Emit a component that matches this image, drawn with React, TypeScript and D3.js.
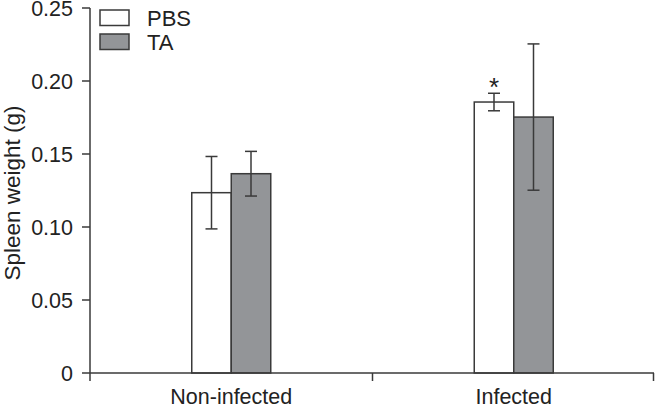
import React from "react";
import * as d3 from "d3";

const groups = ["Non-infected", "Infected"];
const seriesNames = ["PBS", "TA"];
const seriesColors = ["#ffffff", "#939598"];
const pbsMean = [0.1235, 0.1856];
const pbsErr = [0.0248, 0.006];
const taMean = [0.1365, 0.1753];
const taErr = [0.0153, 0.0501];
const yTicks = [0, 0.05, 0.1, 0.15, 0.2, 0.25];
const yTickLabels = ["0", "0.05", "0.10", "0.15", "0.20", "0.25"];
const significance = ["", "*"];

const W = 655;
const H = 406;
const margin = { left: 90, right: 0, top: 8, bottom: 33 };
const stroke = "#3a3a3a";
const font = "'Liberation Sans', Arial, Helvetica, sans-serif";

export default function App() {
  const x0 = d3.scaleBand().domain(groups).range([margin.left, W - margin.right]).padding(0);
  const y = d3.scaleLinear().domain([0, 0.25]).range([H - margin.bottom, margin.top]);
  const barW = 39.5;
  const x1 = d3.scaleBand().domain(seriesNames).range([-barW, barW]).padding(0);
  const means = [pbsMean, taMean];
  const errs = [pbsErr, taErr];
  const capW = 12;
  const y0 = y(0);

  return (
    <svg width={W} height={H} style={{ position: "absolute", left: 0, top: 0, display: "block" }} fontFamily={font}>
      <rect x={0} y={0} width={W} height={H} fill="#fff" />
      {/* bars */}
      {groups.map((g, gi) =>
        seriesNames.map((s, si) => {
          const cx = (x0(g) as number) + x0.bandwidth() / 2;
          const bx = cx + (x1(s) as number);
          const m = means[si][gi];
          const e = errs[si][gi];
          const mid = bx + x1.bandwidth() / 2;
          return (
            <g key={g + s}>
              <rect x={bx} y={y(m)} width={x1.bandwidth()} height={y0 - y(m)} fill={seriesColors[si]} stroke={stroke} strokeWidth={1.5} />
              <line x1={mid} x2={mid} y1={y(m + e)} y2={y(m - e)} stroke={stroke} strokeWidth={1.5} />
              <line x1={mid - capW / 2} x2={mid + capW / 2} y1={y(m + e)} y2={y(m + e)} stroke={stroke} strokeWidth={1.5} />
              <line x1={mid - capW / 2} x2={mid + capW / 2} y1={y(m - e)} y2={y(m - e)} stroke={stroke} strokeWidth={1.5} />
              {si === 0 && significance[gi] ? (
                <text x={mid} y={y(m + e) + 3} textAnchor="middle" fontSize={26} fill="#222">{significance[gi]}</text>
              ) : null}
            </g>
          );
        })
      )}
      {/* y axis */}
      <line x1={margin.left} x2={margin.left} y1={y(0.25)} y2={y0} stroke={stroke} strokeWidth={1.5} />
      {yTicks.map((t, i) => (
        <g key={t}>
          <line x1={margin.left - 8} x2={margin.left} y1={y(t)} y2={y(t)} stroke={stroke} strokeWidth={1.5} />
          <text x={margin.left - 17} y={y(t)} dy="0.36em" textAnchor="end" fontSize={21.5} fill="#222">{yTickLabels[i]}</text>
        </g>
      ))}
      {/* x axis */}
      <line x1={margin.left} x2={W - 1} y1={y0} y2={y0} stroke={stroke} strokeWidth={1.5} />
      {[margin.left, (x0("Infected") as number), W - 1.5].map((t, i) => (
        <line key={i} x1={t} x2={t} y1={y0} y2={y0 + 8} stroke={stroke} strokeWidth={1.5} />
      ))}
      {groups.map((g) => (
        <text key={g} x={(x0(g) as number) + x0.bandwidth() / 2} y={403.5} textAnchor="middle" fontSize={21.5} fill="#222">{g}</text>
      ))}
      {/* y label */}
      <text transform={`translate(20, 193) rotate(-90)`} textAnchor="middle" fontSize={22.5} fill="#222">Spleen weight (g)</text>
      {/* legend */}
      {seriesNames.map((s, i) => (
        <g key={s}>
          <rect x={100} y={10 + i * 24} width={29} height={15.5} fill={seriesColors[i]} stroke={stroke} strokeWidth={1.5} />
          <text x={147} y={25.5 + i * 24} fontSize={22} fill="#222">{s}</text>
        </g>
      ))}
    </svg>
  );
}
